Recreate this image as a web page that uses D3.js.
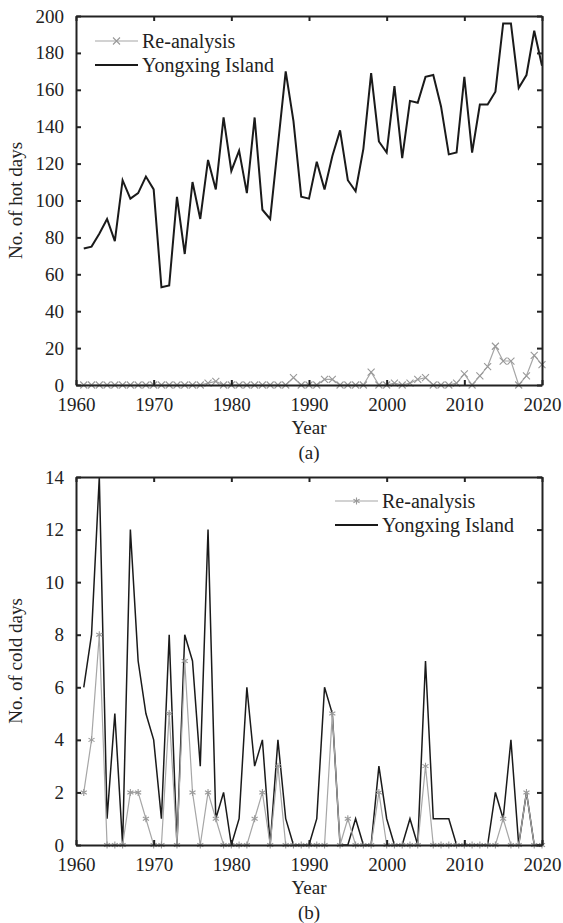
<!DOCTYPE html>
<html>
<head>
<meta charset="utf-8">
<script src="https://cdn.jsdelivr.net/npm/d3@7"></script>
<style>
  body { margin: 0; background: #fff; }
  svg text { font-family: "Liberation Serif", "Times New Roman", serif; fill: #222; }
</style>
</head>
<body>
<svg id="chart" width="563" height="923"></svg>
<script>
var years = d3.range(1961, 2021);
var xTicks = [1960, 1970, 1980, 1990, 2000, 2010, 2020];

var hotYongxing = [74, 75, 82, 90, 78, 111, 101, 104, 113, 106,
  53, 54, 102, 71, 110, 90, 122, 106, 145, 116,
  127, 104, 145, 95, 90, 130, 170, 143, 102, 101,
  121, 106, 124, 138, 111, 105, 128, 169, 132, 126,
  162, 123, 154, 153, 167, 168, 151, 125, 126, 167,
  126, 152, 152, 159, 196, 196, 161, 168, 192, 173];
var hotReanalysis = [0, 0, 0, 0, 0, 0, 0, 0, 0, 0,
  0, 0, 0, 0, 0, 0, 1, 2, 0, 0,
  0, 0, 0, 0, 0, 0, 0, 4, 0, 0,
  0, 3, 3, 0, 0, 0, 0, 7, 0, 0,
  1, 0, 1, 3, 4, 0, 0, 0, 1, 6,
  0, 5, 10, 21, 13, 13, 0, 5, 16, 11];
var hotTicks = d3.range(0, 201, 20);

var coldYongxing = [6, 8, 14, 1, 5, 0, 12, 7, 5, 4,
  1, 8, 0, 8, 7, 3, 12, 1, 2, 0,
  1, 6, 3, 4, 0, 4, 1, 0, 0, 0,
  1, 6, 5, 0, 0, 1, 0, 0, 3, 1,
  0, 0, 1, 0, 7, 1, 1, 1, 0, 0,
  0, 0, 0, 2, 1, 4, 0, 2, 0, 0];
var coldReanalysis = [2, 4, 8, 0, 0, 0, 2, 2, 1, 0,
  0, 5, 0, 7, 2, 0, 2, 1, 0, 0,
  0, 0, 1, 2, 0, 3, 0, 0, 0, 0,
  0, 0, 5, 0, 1, 0, 0, 0, 2, 0,
  0, 0, 0, 0, 3, 0, 0, 0, 0, 0,
  0, 0, 0, 0, 1, 0, 0, 2, 0, 0];
var coldTicks = d3.range(0, 15, 2);

var svg = d3.select("#chart");

// "x" marker for the hot-day panel
function crossPath(s) {
  return "M" + -s + "," + -s + "L" + s + "," + s + "M" + -s + "," + s + "L" + s + "," + -s;
}
// "*" marker for the cold-day panel
function starPath(s) {
  var d = "M0," + -s + "L0," + s;
  var a = s * 0.87, b = s * 0.5;
  d += "M" + -a + "," + -b + "L" + a + "," + b;
  d += "M" + -a + "," + b + "L" + a + "," + -b;
  return d;
}

function panel(opt) {
  var left = 76, right = 542;
  var x = d3.scaleLinear().domain([1960, 2020]).range([left, right]);
  var y = d3.scaleLinear().domain([0, opt.ymax]).range([opt.bottom, opt.top]);
  var g = svg.append("g");

  var line = d3.line()
    .x(function(d, i) { return x(years[i]); })
    .y(function(d) { return y(d); });

  g.append("path")
    .attr("d", line(opt.station))
    .attr("fill", "none")
    .attr("stroke", "#1a1a1a")
    .attr("stroke-width", opt.lineWidth);

  g.append("path")
    .attr("d", line(opt.reanalysis))
    .attr("fill", "none")
    .attr("stroke", "#a6a6a6")
    .attr("stroke-width", 1.2);

  g.selectAll(".mk")
    .data(opt.reanalysis)
    .enter().append("path")
    .attr("transform", function(d, i) { return "translate(" + x(years[i]) + "," + y(d) + ")"; })
    .attr("d", opt.marker(3.5))
    .attr("fill", "none")
    .attr("stroke", "#999")
    .attr("stroke-width", 1.1);

  // axes with inward ticks on all four sides
  var ax = function(sel) {
    sel.selectAll(".domain").attr("stroke", "#222").attr("stroke-width", 2);
    sel.selectAll(".tick line").attr("stroke", "#222").attr("stroke-width", 2);
    sel.selectAll("text").style("font-size", "19px").attr("fill", "#222");
  };
  g.append("g").attr("transform", "translate(0," + opt.bottom + ")")
    .call(d3.axisBottom(x).tickValues(xTicks).tickFormat(d3.format("d"))
      .tickSizeInner(-5).tickSizeOuter(0).tickPadding(13))
    .call(ax);
  g.append("g").attr("transform", "translate(0," + opt.top + ")")
    .call(d3.axisTop(x).tickValues(xTicks).tickFormat("").tickSizeInner(-5).tickSizeOuter(0))
    .call(ax);
  g.append("g").attr("transform", "translate(" + left + ",0)")
    .call(d3.axisLeft(y).tickValues(opt.yTicks).tickSizeInner(-5).tickSizeOuter(0).tickPadding(12))
    .call(ax);
  g.append("g").attr("transform", "translate(" + right + ",0)")
    .call(d3.axisRight(y).tickValues(opt.yTicks).tickFormat("").tickSizeInner(-5).tickSizeOuter(0))
    .call(ax);

  g.append("text")
    .attr("x", (left + right) / 2).attr("y", opt.bottom + 49)
    .attr("text-anchor", "middle").style("font-size", "19px").text("Year");
  g.append("text")
    .attr("x", (left + right) / 2).attr("y", opt.bottom + 74)
    .attr("text-anchor", "middle").style("font-size", "19px").text(opt.tag);
  g.append("text")
    .attr("transform", "translate(22," + (opt.top + opt.bottom) / 2 + ") rotate(-90)")
    .attr("text-anchor", "middle").style("font-size", "19px").text(opt.ylabel);

  // legend
  var lg = g.append("g").attr("transform", "translate(" + opt.legend[0] + "," + opt.legend[1] + ")");
  lg.append("line").attr("x1", 0).attr("x2", 43).attr("y1", 0).attr("y2", 0)
    .attr("stroke", "#a6a6a6").attr("stroke-width", 1.2);
  lg.append("path").attr("transform", "translate(21.5,0)").attr("d", opt.marker(3.5))
    .attr("fill", "none").attr("stroke", "#999").attr("stroke-width", 1.1);
  lg.append("text").attr("x", 47).attr("y", 7).style("font-size", "20px").text("Re-analysis");
  lg.append("line").attr("x1", 0).attr("x2", 43).attr("y1", 24).attr("y2", 24)
    .attr("stroke", "#1a1a1a").attr("stroke-width", 2);
  lg.append("text").attr("x", 47).attr("y", 31).style("font-size", "20px").text("Yongxing Island");
}

panel({
  top: 16, bottom: 385, ymax: 200, yTicks: hotTicks,
  station: hotYongxing, reanalysis: hotReanalysis,
  marker: crossPath, lineWidth: 2,
  ylabel: "No. of hot days", tag: "(a)", legend: [95, 41]
});

panel({
  top: 477, bottom: 845, ymax: 14, yTicks: coldTicks,
  station: coldYongxing, reanalysis: coldReanalysis,
  marker: starPath, lineWidth: 1.5,
  ylabel: "No. of cold days", tag: "(b)", legend: [335, 501]
});
</script>
</body>
</html>
